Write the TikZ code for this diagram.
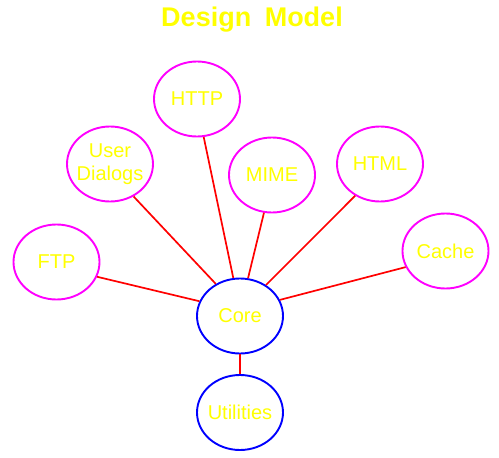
\documentclass[tikz,border=0pt]{standalone}
\usepackage{fontspec}
\setmainfont{Liberation Sans}
\usetikzlibrary{shapes.geometric}
\definecolor{ylw}{RGB}{255,255,0}
\definecolor{mag}{RGB}{255,0,255}
\definecolor{blu}{RGB}{0,0,255}
\definecolor{rd}{RGB}{255,0,0}
\begin{document}
\begin{tikzpicture}[x=1pt,y=-1pt,
  bubble/.style={ellipse,draw=mag,line width=1.9pt,minimum width=86pt,minimum height=75pt,inner sep=0pt},
  corebubble/.style={bubble,draw=blu},
  lbl/.style={text=ylw,font=\fontsize{20}{23}\selectfont,align=center,inner sep=0pt},
  link/.style={draw=rd,line width=1.7pt}]
\useasboundingbox (0,0) rectangle (499,458);
\node[text=ylw,font=\bfseries\fontsize{27}{30}\selectfont] (title) at (252,20) {Design\hspace{0.5em}Model};
\node[bubble] (http) at (197,99) {};
\node[bubble] (user) at (110,164) {};
\node[bubble] (mime) at (272,175) {};
\node[bubble] (html) at (380,164) {};
\node[bubble] (ftp) at (56.5,262) {};
\node[bubble] (cache) at (445.5,251) {};
\node[corebubble] (core) at (240,316) {};
\node[corebubble] (util) at (240,412.5) {};
\node[lbl] (httpt) at (http) {HTTP};
\node[lbl] (usert) at (user) {User\\Dialogs};
\node[lbl] (mimet) at (mime) {MIME};
\node[lbl] (htmlt) at (html) {HTML};
\node[lbl] (ftpt) at (ftp) {FTP};
\node[lbl] (cachet) at (cache) {Cache};
\node[lbl] (coret) at (core) {Core};
\node[lbl] (utilt) at (util) {Utilities};
\draw[link] (http.-80) -- (core.100);
\draw[link] (user.-54) -- (core.127);
\draw[link] (mime.-102) -- (core.78);
\draw[link] (html.-128) -- (core.50);
\draw[link] (ftp.-20) -- (core.160);
\draw[link] (cache.-158) -- (core.22);
\draw[link] (core.south) -- (util.north);
\end{tikzpicture}
\end{document}
